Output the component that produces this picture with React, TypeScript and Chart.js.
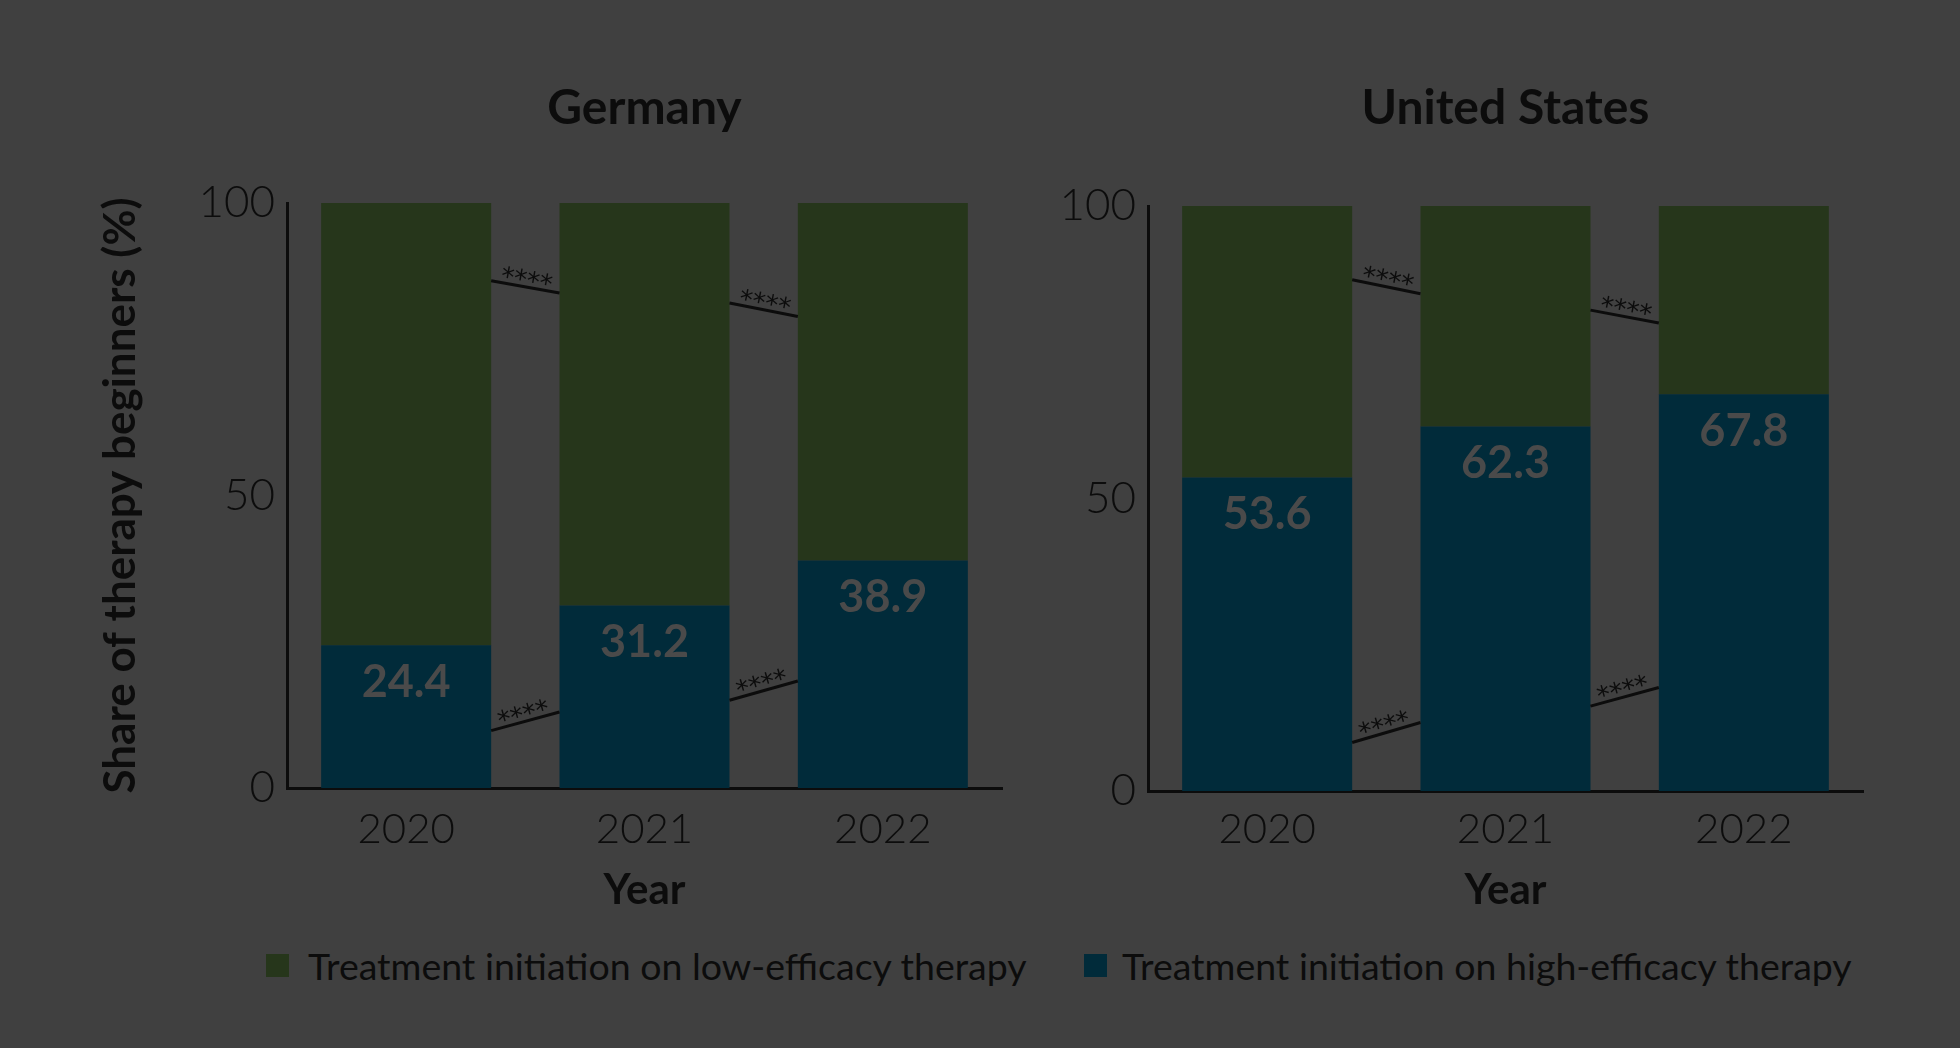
import React, { useEffect, useRef } from 'react';
import { Chart, registerables } from 'chart.js';

Chart.register(...registerables);

// ---------- data ----------
const years = ['2020', '2021', '2022'];
const yTickValues = [0, 50, 100];

const germanyHigh = [24.4, 31.2, 38.9];
const germanyLow = [75.6, 68.8, 61.1];
const usHigh = [53.6, 62.3, 67.8];
const usLow = [46.4, 37.7, 32.2];

// significance connector lines: [value at left bar edge, value at right bar edge]
const germanyLowSig = [[86.7, 84.6], [82.9, 80.6]];
const germanyHighSig = [[9.8, 13.0], [15.0, 18.3]];
const usLowSig = [[87.4, 85.0], [82.2, 80.0]];
const usHighSig = [[8.3, 11.7], [14.5, 17.7]];
const sigText = '****';

const seriesLabels = [
  'Treatment initiation on low-efficacy therapy',
  'Treatment initiation on high-efficacy therapy',
];
const panelTitles = ['Germany', 'United States'];
const xTitle = 'Year';
const yTitle = 'Share of therapy beginners (%)';

// ---------- styles ----------
const BG = '#404040';
const LOW = '#26361b';
const HIGH = '#012b3a';
const INK = '#0c0c0c';
const VALUE_INK = '#4a4a4a';
const FONT = 'Lato';

function makeOverlay(title: string, lowSig: number[][], highSig: number[][]) {
  return {
    id: 'overlay',
    afterDatasetsDraw(chart: any) {
      const ctx = chart.ctx;
      const y = chart.scales.y;
      const area = chart.chartArea;
      const highMeta = chart.getDatasetMeta(0);
      const lowMeta = chart.getDatasetMeta(1);
      const highBars = highMeta.data;
      ctx.save();
      // panel title centred over the plot area
      ctx.font = `bold 48px ${FONT}`;
      ctx.fillStyle = INK;
      ctx.textAlign = 'center';
      ctx.textBaseline = 'middle';
      ctx.fillText(title, (area.left + area.right) / 2, 109);
      // value labels in high-efficacy segments
      ctx.font = `bold 45px ${FONT}`;
      ctx.fillStyle = VALUE_INK;
      const vals = chart.data.datasets[0].data;
      highBars.forEach((b: any, i: number) => {
        const p = b.getProps(['x', 'y'], true);
        ctx.fillText(vals[i].toFixed(1), p.x, p.y + 37);
      });
      // connector lines
      const drawSeg = (sig: number[][], bars: any[]) => {
        sig.forEach((pair, i) => {
          const a = bars[i].getProps(['x', 'width'], true);
          const b = bars[i + 1].getProps(['x', 'width'], true);
          const x0 = a.x + a.width / 2;
          const x1 = b.x - b.width / 2;
          const y0 = y.getPixelForValue(pair[0]);
          const y1 = y.getPixelForValue(pair[1]);
          ctx.strokeStyle = INK;
          ctx.lineWidth = 3;
          ctx.beginPath();
          ctx.moveTo(x0, y0);
          ctx.lineTo(x1, y1);
          ctx.stroke();
          const ang = Math.atan2(y1 - y0, x1 - x0);
          ctx.save();
          ctx.translate((x0 + x1) / 2, (y0 + y1) / 2);
          ctx.rotate(ang);
          ctx.font = `26px "DejaVu Sans"`;
          ctx.fillStyle = INK;
          ctx.textAlign = 'center';
          ctx.textBaseline = 'alphabetic';
          ctx.fillText(sigText, 0, 2);
          ctx.restore();
        });
      };
      drawSeg(lowSig, lowMeta.data);
      drawSeg(highSig, highBars);
      ctx.restore();
    },
  };
}

interface PanelCfg {
  title: string;
  high: number[];
  low: number[];
  lowSig: number[][];
  highSig: number[][];
  width: number;
  height: number;
  yWidth: number;
  rightPad: number;
  topPad: number;
  xHeight: number;
  xTickPad: number;
  showYTitle: boolean;
}

function Panel({ cfg, left }: { cfg: PanelCfg; left: number }) {
  const ref = useRef<HTMLCanvasElement | null>(null);
  useEffect(() => {
    if (!ref.current) return;
    const chart = new Chart(ref.current, {
      type: 'bar',
      data: {
        labels: years,
        datasets: [
          { label: seriesLabels[1], data: cfg.high, backgroundColor: HIGH, borderWidth: 0 },
          { label: seriesLabels[0], data: cfg.low, backgroundColor: LOW, borderWidth: 0 },
        ],
      },
      options: {
        responsive: false,
        animation: false,
        devicePixelRatio: 1,
        layout: { padding: { left: 0, right: cfg.rightPad, top: cfg.topPad, bottom: 0 } },
        datasets: { bar: { barPercentage: 1, categoryPercentage: 0.7133 } },
        plugins: {
          legend: { display: false },
          tooltip: { enabled: false },
          title: { display: false },
        },
        scales: {
          x: {
            stacked: true,
            grid: { display: false, drawTicks: false },
            border: { display: true, color: INK, width: 3 },
            ticks: { color: INK, font: { family: FONT, size: 42, weight: '300' }, padding: cfg.xTickPad },
            title: {
              display: true,
              text: xTitle,
              color: INK,
              font: { family: FONT, size: 42, weight: 'bold' },
              padding: { top: 0, bottom: 4 },
            },
            afterFit: (s: any) => { s.height = cfg.xHeight; },
          },
          y: {
            stacked: true,
            min: 0,
            max: 100,
            grid: { display: false, drawTicks: false },
            border: { display: true, color: INK, width: 3 },
            ticks: { color: INK, font: { family: FONT, size: 44, weight: '300' }, padding: 12 },
            afterBuildTicks: (s: any) => { s.ticks = yTickValues.map((v) => ({ value: v })); },
            title: {
              display: cfg.showYTitle,
              text: yTitle,
              color: INK,
              font: { family: FONT, size: 44, weight: 'bold' },
              padding: { top: 94, bottom: 0 },
            },
            afterFit: (s: any) => { s.width = cfg.yWidth; },
          },
        },
      },
      plugins: [makeOverlay(cfg.title, cfg.lowSig, cfg.highSig)],
    } as any);
    return () => chart.destroy();
  }, []);
  return (
    <canvas
      ref={ref}
      width={cfg.width}
      height={cfg.height}
      style={{ position: 'absolute', left, top: 0, display: 'block' }}
    />
  );
}

const germanyCfg: PanelCfg = {
  title: panelTitles[0], high: germanyHigh, low: germanyLow,
  lowSig: germanyLowSig, highSig: germanyHighSig,
  width: 1010, height: 920, yWidth: 287, rightPad: 8, topPad: 203,
  xHeight: 132, xTickPad: 16, showYTitle: true,
};
const usCfg: PanelCfg = {
  title: panelTitles[1], high: usHigh, low: usLow,
  lowSig: usLowSig, highSig: usHighSig,
  width: 950, height: 920, yWidth: 138, rightPad: 97, topPad: 206,
  xHeight: 129, xTickPad: 13, showYTitle: false,
};

function LegendItem({ color, text, boxLeft, textLeft }: { color: string; text: string; boxLeft: number; textLeft: number }) {
  return (
    <>
      <div style={{ position: 'absolute', left: boxLeft, top: 954, width: 23, height: 23, background: color }} />
      <div
        style={{
          position: 'absolute', left: textLeft, top: 942, height: 48, lineHeight: '48px',
          fontFamily: FONT, fontSize: 37.5, fontWeight: 400, color: INK, whiteSpace: 'nowrap',
        }}
      >
        {text}
      </div>
    </>
  );
}

export default function App() {
  return (
    <div style={{ position: 'absolute', left: 0, top: 0, width: 1960, height: 1048, background: BG, overflow: 'hidden' }}>
      <Panel cfg={germanyCfg} left={0} />
      <Panel cfg={usCfg} left={1010} />
      <LegendItem color={LOW} text={seriesLabels[0]} boxLeft={266} textLeft={308} />
      <LegendItem color={HIGH} text={seriesLabels[1]} boxLeft={1084} textLeft={1122} />
    </div>
  );
}
